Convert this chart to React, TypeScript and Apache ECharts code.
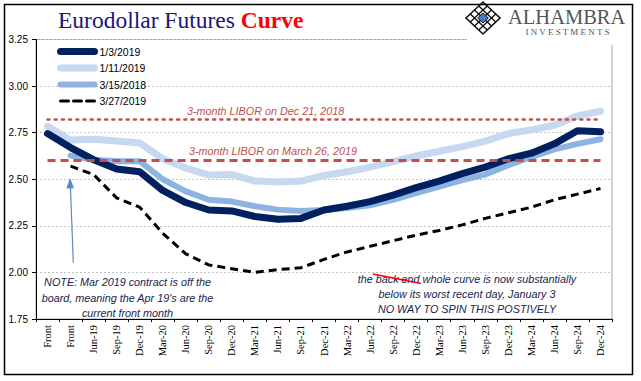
import React, { useEffect, useRef } from "react";
import * as echarts from "echarts";

const categories = ["Front","Front","Jun-19","Sep-19","Dec-19","Mar-20","Jun-20","Sep-20","Dec-20","Mar-21","Jun-21","Sep-21","Dec-21","Mar-22","Jun-22","Sep-22","Dec-22","Mar-23","Jun-23","Sep-23","Dec-23","Mar-24","Jun-24","Sep-24","Dec-24"];

const jan3 = [2.745, 2.67, 2.605, 2.555, 2.54, 2.44, 2.375, 2.335, 2.33, 2.30, 2.285, 2.29, 2.335, 2.355, 2.38, 2.415, 2.455, 2.49, 2.53, 2.565, 2.61, 2.64, 2.69, 2.76, 2.755];
const jan11 = [2.785, 2.71, 2.715, 2.705, 2.695, 2.61, 2.56, 2.523, 2.526, 2.49, 2.485, 2.49, 2.52, 2.54, 2.565, 2.595, 2.625, 2.65, 2.675, 2.705, 2.745, 2.765, 2.79, 2.84, 2.865];
const mar15 = [null, 2.627, 2.605, 2.597, 2.597, 2.50, 2.435, 2.39, 2.38, 2.355, 2.337, 2.33, 2.335, 2.345, 2.36, 2.39, 2.425, 2.46, 2.495, 2.525, 2.575, 2.62, 2.66, 2.69, 2.715];
const mar27 = [null, 2.57, 2.525, 2.40, 2.35, 2.21, 2.10, 2.04, 2.02, 2.00, 2.015, 2.025, 2.07, 2.11, 2.14, 2.17, 2.20, 2.225, 2.255, 2.29, 2.32, 2.35, 2.39, 2.42, 2.45];

const seriesNames = ["1/3/2019", "1/11/2019", "3/15/2018", "3/27/2019"];
const liborDec21 = 2.82;
const liborMar26 = 2.60;
const yTicks = { min: 1.75, max: 3.25, step: 0.25 };

const noteLines = ["NOTE: Mar 2019 contract is off the", "board, meaning the Apr 19's are the", "current front month"];
const commentLines = ["the back end whole curve is now substantially", "below its worst recent day, January 3", "NO WAY TO SPIN THIS POSTIVELY"];

export default function App() {
  const ref = useRef<HTMLDivElement>(null);
  useEffect(() => {
    if (!ref.current) return;
    const chart = echarts.init(ref.current, null, { renderer: "svg" });
    const lastIdx = categories.length - 1;
    const noteColor = "#17244f";
    const red = "#c0504d";
    const logoCx = 483, logoCy = 18, hw = 17, hh = 16;
    const L = [logoCx - hw, logoCy], T = [logoCx, logoCy - hh], R = [logoCx + hw, logoCy], B = [logoCx, logoCy + hh];
    const latticeLines: any[] = [];
    [0.25, 0.5, 0.75].forEach((f) => {
      const p1 = [L[0] + f * (B[0] - L[0]), L[1] + f * (B[1] - L[1])];
      latticeLines.push({ type: "line", z: 101, shape: { x1: p1[0], y1: p1[1], x2: p1[0] + (T[0] - L[0]), y2: p1[1] + (T[1] - L[1]) }, style: { stroke: "#111", lineWidth: 1.3 } });
      const p2 = [L[0] + f * (T[0] - L[0]), L[1] + f * (T[1] - L[1])];
      latticeLines.push({ type: "line", z: 101, shape: { x1: p2[0], y1: p2[1], x2: p2[0] + (B[0] - L[0]), y2: p2[1] + (B[1] - L[1]) }, style: { stroke: "#111", lineWidth: 1.3 } });
    });

    const option: any = {
      animation: false,
      backgroundColor: "#fff",
      grid: { left: 36, right: 29, top: 39.5, bottom: 62, show: true, borderColor: "#a6a6a6", borderWidth: 1 },
      legend: {
        data: seriesNames,
        orient: "vertical",
        left: 57,
        top: 46,
        itemWidth: 34,
        itemHeight: 14,
        itemGap: 5.3,
        textStyle: { fontFamily: "Liberation Sans", fontSize: 10.5, color: "#000" },
        lineStyle: { width: "inherit", cap: "round" },
        itemStyle: { color: "rgba(0,0,0,0)", borderWidth: 0, opacity: 0 },
        padding: 0,
      },
      xAxis: {
        type: "category",
        data: categories,
        boundaryGap: true,
        axisLine: { lineStyle: { color: "#000", width: 1 } },
        axisTick: { show: true, interval: 0, length: 3, lineStyle: { color: "#000" } },
        axisLabel: { interval: 0, rotate: 90, fontFamily: "Liberation Serif", fontSize: 10.5, color: "#000", margin: 6 },
        splitLine: { show: false },
      },
      yAxis: {
        type: "value",
        min: yTicks.min,
        max: yTicks.max,
        interval: yTicks.step,
        axisLine: { show: true, lineStyle: { color: "#000", width: 1 } },
        axisTick: { show: true, length: 4, lineStyle: { color: "#000" } },
        axisLabel: { formatter: (v: number) => v.toFixed(2), fontFamily: "Liberation Sans", fontSize: 10, color: "#000", margin: 8 },
        splitLine: { show: true, lineStyle: { color: "#c4c4c4", type: [2, 2], width: 1 } },
      },
      series: [
        { name: seriesNames[1], type: "line", data: jan11, showSymbol: false, symbol: "none", z: 2,
          lineStyle: { color: "#c6d9f1", width: 7, cap: "round", join: "round" }, itemStyle: { color: "#c6d9f1" } },
        { name: seriesNames[2], type: "line", data: mar15, showSymbol: false, symbol: "none", z: 3,
          lineStyle: { color: "#8db3e2", width: 6, cap: "round", join: "round" }, itemStyle: { color: "#8db3e2" } },
        { name: seriesNames[0], type: "line", data: jan3, showSymbol: false, symbol: "none", z: 4,
          lineStyle: { color: "#002060", width: 7, cap: "round", join: "round" }, itemStyle: { color: "#002060" } },
        { name: seriesNames[3], type: "line", data: mar27, showSymbol: false, symbol: "none", z: 5,
          lineStyle: { color: "#000", width: 3, type: [8, 5], join: "round" }, itemStyle: { color: "#000" },
          markLine: {
            silent: true, symbol: "none", z: 6, label: { show: false },
            data: [
              [{ coord: [0, liborDec21], lineStyle: { color: red, width: 2.5, type: [2, 5.2], cap: "round" } }, { coord: [lastIdx, liborDec21] }],
              [{ coord: [0, liborMar26], lineStyle: { color: red, width: 3, type: [8, 5] } }, { coord: [lastIdx, liborMar26] }],
            ],
          } },
      ],
      graphic: [
        { type: "rect", z: 100, shape: { x: 467, y: 0, width: 174, height: 44.5 }, style: { fill: "#fff" } },
        { type: "rect", z: 120, shape: { x: 4.5, y: 4.5, width: 628, height: 370 }, style: { fill: "none", stroke: "#000", lineWidth: 1.5 } },
        { type: "text", z: 110, x: 58, y: 19.5, style: { text: "{a|Eurodollar Futures }{b|Curve}", verticalAlign: "middle",
          rich: { a: { fontFamily: "Liberation Serif", fontSize: 23.5, fill: "#1c1478" }, b: { fontFamily: "Liberation Serif", fontSize: 23.5, fontWeight: "bold", fill: "#ff0000" } } } },
        { type: "polygon", z: 101, shape: { points: [L, T, R, B] }, style: { fill: "#fff", stroke: "#111", lineWidth: 1.6 } },
        ...latticeLines,
        { type: "polygon", z: 102, shape: { points: [[logoCx, logoCy - 5], [logoCx + 5.3, logoCy], [logoCx, logoCy + 5], [logoCx - 5.3, logoCy]] }, style: { fill: "#3c7dd0", stroke: "#111", lineWidth: 1 } },
        { type: "text", z: 110, x: 508, y: 17, style: { text: "ALHAMBRA", fontFamily: "Liberation Serif", fontSize: 20.5, fill: "#555", verticalAlign: "middle" } },
        { type: "text", z: 110, x: 567.5, y: 32, style: { text: "I N V E S T M E N T S", fontFamily: "Liberation Serif", fontSize: 9, fill: "#555", align: "center", verticalAlign: "middle" } },
        { type: "text", z: 110, x: 187, y: 111, style: { text: "3-month LIBOR on Dec 21, 2018", fontFamily: "Liberation Sans", fontStyle: "italic", fontSize: 10.8, fill: red, verticalAlign: "middle" } },
        { type: "text", z: 110, x: 189, y: 150.5, style: { text: "3-month LIBOR on March 26, 2019", fontFamily: "Liberation Sans", fontStyle: "italic", fontSize: 10.8, fill: red, verticalAlign: "middle" } },
        ...noteLines.map((t, i) => ({ type: "text", z: 110, x: 127.5, y: 282.3 + i * 15.2, style: { text: t, fontFamily: "Liberation Sans", fontStyle: "italic", fontSize: 10.8, fill: noteColor, align: "center", verticalAlign: "middle" } })),
        ...commentLines.map((t, i) => ({ type: "text", z: 110, x: 467, y: 279.3 + i * 15, style: { text: t, fontFamily: "Liberation Sans", fontStyle: "italic", fontSize: 10.8, fill: noteColor, align: "center", verticalAlign: "middle" } })),
        { type: "line", z: 111, shape: { x1: 373, y1: 274, x2: 421, y2: 283.5 }, style: { stroke: "#ff0000", lineWidth: 1.5 } },
        { type: "line", z: 110, shape: { x1: 73.3, y1: 262.5, x2: 70.4, y2: 186 }, style: { stroke: "#5a87c6", lineWidth: 1.2 } },
        { type: "polygon", z: 110, shape: { points: [[70.1, 178], [66.4, 188.5], [74, 188.3]] }, style: { fill: "#5a87c6" } },
      ],
    };
    chart.setOption(option);
    return () => chart.dispose();
  }, []);
  return <div ref={ref} style={{ position: "fixed", left: 0, top: 0, width: 641, height: 381 }} />;
}
